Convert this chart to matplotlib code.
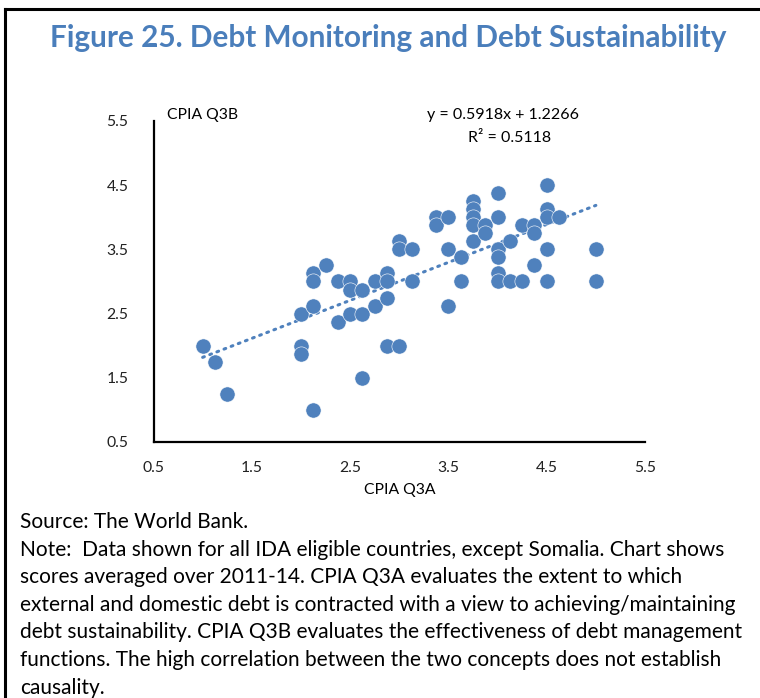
import matplotlib
matplotlib.use("Agg")
import matplotlib.pyplot as plt
from matplotlib.lines import Line2D

# CPIA scores averaged over 2011-14, IDA eligible countries
q3a = [1.0, 1.125, 1.25, 2.125, 2.0, 2.0, 2.0, 2.125, 2.125, 2.125, 2.25, 2.375,
       2.375, 2.5, 2.5, 2.5, 2.625, 2.625, 2.625, 2.75, 2.75, 2.875, 2.875, 2.875,
       2.875, 3.0, 3.0, 3.0, 3.125, 3.125, 3.375, 3.375, 3.5, 3.5, 3.5, 3.625,
       3.625, 3.75, 3.75, 3.75, 3.75, 3.75, 3.875, 3.875, 4.0, 4.0, 4.0, 4.0,
       4.0, 4.0, 4.125, 4.125, 4.25, 4.25, 4.375, 4.375, 4.375, 4.5, 4.5, 4.5,
       4.5, 4.5, 4.625, 5.0, 5.0]
q3b = [2.0, 1.75, 1.25, 1.0, 2.0, 1.875, 2.5, 2.625, 3.125, 3.0, 3.25, 3.0,
       2.375, 3.0, 2.875, 2.5, 2.875, 2.5, 1.5, 3.0, 2.625, 3.125, 3.0, 2.75,
       2.0, 2.0, 3.625, 3.5, 3.5, 3.0, 4.0, 3.875, 4.0, 3.5, 2.625, 3.375,
       3.0, 4.25, 4.125, 4.0, 3.875, 3.625, 3.875, 3.75, 4.375, 4.0, 3.5, 3.375,
       3.125, 3.0, 3.625, 3.0, 3.875, 3.0, 3.875, 3.75, 3.25, 4.5, 4.125, 4.0,
       3.5, 3.0, 4.0, 3.5, 3.0]

# Linear trend as reported
slope = 0.5918
intercept = 1.2266
r_squared = 0.5118
trend_x = [1.0, 5.0]

ticks = [0.5, 1.5, 2.5, 3.5, 4.5, 5.5]

title = "Figure 25. Debt Monitoring and Debt Sustainability"
notes = [
    "Source: The World Bank.",
    "Note:  Data shown for all IDA eligible countries, except Somalia. Chart shows",
    "scores averaged over 2011-14. CPIA Q3A evaluates the extent to which",
    "external and domestic debt is contracted with a view to achieving/maintaining",
    "debt sustainability. CPIA Q3B evaluates the effectiveness of debt management",
    "functions. The high correlation between the two concepts does not establish",
    "causality.",
]

blue = "#4F81BD"
W, H = 760, 698
fig = plt.figure(figsize=(W / 100, H / 100), dpi=100)
plt.rcParams["font.family"] = ["Lato", "DejaVu Sans"]

# outer frame (top and left edges)
fig.add_artist(Line2D([5 / W, 1.0], [1 - 9 / H, 1 - 9 / H], color="black", lw=2.2,
                      transform=fig.transFigure))
fig.add_artist(Line2D([5 / W, 5 / W], [0.0, 1 - 9 / H], color="black", lw=2.2,
                      transform=fig.transFigure))

fig.text(388 / W, 1 - 38 / H, title, ha="center", va="center", fontsize=21.4,
         fontweight="bold", color="#4A7EBB")

ax = fig.add_axes([153.5 / W, 1 - 442 / H, (645 - 153.5) / W, (442 - 121) / H])
ax.scatter(q3a, q3b, s=120, color=blue, edgecolors="white", linewidths=0.4, zorder=3)

ty = [slope * x + intercept for x in trend_x]
ax.plot(trend_x, ty, color=blue, lw=2.2, linestyle=(0, (0.6, 1.9)),
        dash_capstyle="round", zorder=2)

ax.set_xlim(0.5, 5.5)
ax.set_ylim(0.5, 5.5)
ax.set_xticks(ticks)
ax.set_yticks(ticks)
ax.set_xticklabels([f"{t:.1f}" for t in ticks])
ax.set_yticklabels([f"{t:.1f}" for t in ticks])
ax.tick_params(length=0, labelsize=11.3, pad=14, colors="#222222")
ax.tick_params(axis="y", pad=18)
for side in ("top", "right"):
    ax.spines[side].set_visible(False)
for side in ("left", "bottom"):
    ax.spines[side].set_linewidth(1.6)

ax.text(0.028, 1.02, "CPIA Q3B", transform=ax.transAxes, fontsize=11.3, ha="left",
        va="center")
fig.text(400 / W, 1 - 490 / H, "CPIA Q3A", ha="center", va="center", fontsize=11.3)

fig.text(503 / W, 1 - 115 / H, f"y = {slope}x + {intercept}", ha="center",
         va="center", fontsize=11.5)
fig.text(510 / W, 1 - 138 / H, f"R² = {r_squared}", ha="center", va="center",
         fontsize=11.5)

for i, line in enumerate(notes):
    fig.text(20 / W, 1 - (528 + i * 27.6) / H, line, ha="left", va="baseline",
             fontsize=15.0)

fig.savefig("out.png", dpi=100)
